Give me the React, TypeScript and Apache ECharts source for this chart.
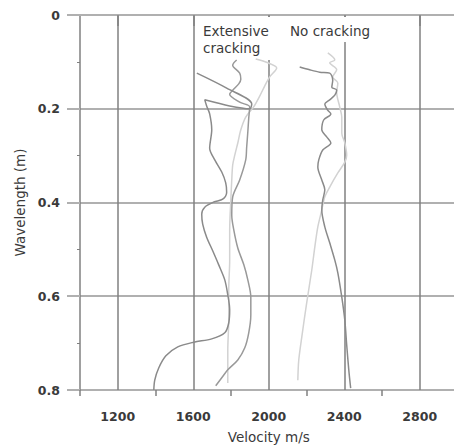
import React, { useEffect, useRef } from "react";
import * as echarts from "echarts";

const FONT = '"DejaVu Sans", Verdana, sans-serif';

const velocityMajorTicks = [1200, 1600, 2000, 2400, 2800];
const velocityMinorTicks = [1000, 1400, 1800, 2200, 2600];
const velocityMin = 1000;
const velocityMax = 3000;
const wavelengthMin = 0;
const wavelengthMax = 0.8;
const wavelengthStep = 0.2;

const xAxisTitle = "Velocity m/s";
const yAxisTitle = "Wavelength (m)";
const labelExtensive = "Extensive\ncracking";
const labelNone = "No cracking";

// Extensive cracking, dark curve
const extDarkVelocity = [1619, 1777, 1910, 1899, 1793, 1661, 1671, 1687, 1698, 1687, 1714, 1751, 1772, 1777, 1756, 1709, 1661, 1645, 1650, 1671, 1703, 1735, 1767, 1783, 1793, 1788, 1767, 1698, 1603, 1518, 1455, 1417, 1396, 1391];
const extDarkWavelength = [0.124, 0.156, 0.19, 0.2, 0.194, 0.181, 0.194, 0.211, 0.245, 0.284, 0.309, 0.335, 0.358, 0.378, 0.393, 0.399, 0.41, 0.425, 0.446, 0.474, 0.503, 0.533, 0.565, 0.597, 0.629, 0.657, 0.678, 0.691, 0.698, 0.708, 0.727, 0.753, 0.779, 0.8];

// Extensive cracking, medium curve
const extMidVelocity = [1830, 1809, 1846, 1852, 1841, 1815, 1793, 1846, 1899, 1894, 1889, 1883, 1878, 1846, 1809, 1804, 1815, 1836, 1868, 1889, 1905, 1905, 1894, 1873, 1836, 1783, 1751, 1719];
const extMidWavelength = [0.096, 0.107, 0.124, 0.137, 0.147, 0.158, 0.169, 0.186, 0.196, 0.22, 0.25, 0.282, 0.309, 0.352, 0.388, 0.427, 0.459, 0.497, 0.533, 0.565, 0.602, 0.64, 0.678, 0.71, 0.736, 0.757, 0.774, 0.791];

// Extensive cracking, light curve
const extLightVelocity = [1931, 1995, 2042, 2005, 1979, 1952, 1920, 1878, 1852, 1836, 1820, 1809, 1804, 1799, 1793, 1793, 1788, 1788, 1783, 1783];
const extLightWavelength = [0.094, 0.102, 0.113, 0.132, 0.151, 0.173, 0.196, 0.218, 0.245, 0.273, 0.299, 0.32, 0.352, 0.395, 0.459, 0.523, 0.587, 0.651, 0.715, 0.785];

// No cracking, dark curve
const noneDarkVelocity = [2164, 2217, 2270, 2323, 2339, 2334, 2360, 2350, 2323, 2297, 2312, 2329, 2291, 2281, 2307, 2329, 2286, 2265, 2260, 2281, 2297, 2286, 2281, 2297, 2323, 2350, 2366, 2387, 2403, 2413, 2424, 2434];
const noneDarkWavelength = [0.111, 0.117, 0.122, 0.124, 0.139, 0.154, 0.16, 0.171, 0.181, 0.19, 0.203, 0.211, 0.224, 0.245, 0.26, 0.273, 0.288, 0.309, 0.324, 0.352, 0.373, 0.395, 0.416, 0.452, 0.486, 0.523, 0.55, 0.602, 0.651, 0.704, 0.757, 0.796];

// No cracking, light curve
const noneLightVelocity = [2313, 2350, 2323, 2360, 2339, 2366, 2360, 2376, 2387, 2387, 2403, 2413, 2403, 2366, 2323, 2297, 2281, 2260, 2244, 2228, 2201, 2175, 2159, 2154];
const noneLightWavelength = [0.081, 0.096, 0.102, 0.117, 0.132, 0.145, 0.166, 0.196, 0.218, 0.252, 0.273, 0.299, 0.314, 0.337, 0.367, 0.388, 0.416, 0.452, 0.495, 0.544, 0.614, 0.687, 0.736, 0.779];

const pairs = (xs: number[], ys: number[]) => xs.map((x, i) => [x, ys[i]]);

const curve = (name: string, xs: number[], ys: number[], color: string) => ({
  name,
  type: "line",
  xAxisIndex: 0,
  data: pairs(xs, ys),
  showSymbol: false,
  symbol: "none",
  smooth: 0.3,
  z: 3,
  lineStyle: { color, width: 1.5 },
});

export default function App() {
  const ref = useRef<HTMLDivElement>(null);
  useEffect(() => {
    if (!ref.current) return;
    const chart = echarts.init(ref.current, undefined, { renderer: "svg" });
    const vGrid = "#808080";
    const hGrid = "#b0b0b0";
    const labelStyle = { fontFamily: FONT, fontSize: 12.5, fontWeight: "bold", color: "#3a3a3a" };
    chart.setOption({
      animation: false,
      backgroundColor: "#ffffff",
      grid: { left: 80, top: 15, width: 377.5, height: 375, containLabel: false, outerBoundsMode: "none" },
      xAxis: [
        {
          type: "value",
          min: velocityMin,
          max: velocityMax,
          position: "bottom",
          name: xAxisTitle,
          nameLocation: "middle",
          nameGap: 40,
          nameTextStyle: { fontFamily: FONT, fontSize: 13.5, color: "#3a3a3a" },
          axisLine: { show: true, lineStyle: { color: hGrid, width: 2 } },
          axisTick: { show: true, length: 11, customValues: velocityMajorTicks, lineStyle: { color: vGrid, width: 1.5 } },
          axisLabel: { show: true, margin: 20, customValues: velocityMajorTicks, formatter: (v: number) => String(v), ...labelStyle },
          splitLine: { show: true, lineStyle: { color: vGrid, width: 1.5 } },
        },
        {
          type: "value",
          min: velocityMin,
          max: velocityMax,
          position: "bottom",
          offset: 0,
          axisLine: { show: false },
          axisTick: { show: true, length: 6, customValues: velocityMinorTicks, lineStyle: { color: vGrid, width: 1.5 } },
          axisLabel: { show: false },
          splitLine: { show: false },
        },
      ],
      yAxis: {
        type: "value",
        inverse: true,
        min: wavelengthMin,
        max: wavelengthMax,
        interval: wavelengthStep,
        name: yAxisTitle,
        nameLocation: "middle",
        nameGap: 50,
        nameRotate: 90,
        nameTextStyle: { fontFamily: FONT, fontSize: 13.5, color: "#3a3a3a" },
        axisLine: { show: true, lineStyle: { color: vGrid, width: 1.5 } },
        axisTick: { show: true, length: 13, lineStyle: { color: hGrid, width: 2 } },
        minorTick: { show: true, splitNumber: 2, length: 3, lineStyle: { color: vGrid, width: 1 } },
        axisLabel: { margin: 20, formatter: (v: number) => String(v), ...labelStyle },
        splitLine: { show: true, lineStyle: { color: hGrid, width: 2 } },
      },
      graphic: [
        { type: "rect", z: 1, shape: { x: 199, y: 17, width: 75, height: 43 }, style: { fill: "#ffffff" } },
        { type: "rect", z: 1, shape: { x: 286, y: 17, width: 90, height: 25 }, style: { fill: "#ffffff" } },
        { type: "text", z: 2, x: 203, y: 22, style: { text: labelExtensive, font: `normal 13.5px ${FONT}`, fill: "#3a3a3a", lineHeight: 17 } },
        { type: "text", z: 2, x: 290, y: 22, style: { text: labelNone, font: `normal 13.5px ${FONT}`, fill: "#3a3a3a", lineHeight: 17 } },
      ],
      series: [
        curve("Extensive light", extLightVelocity, extLightWavelength, "#d2d2d2"),
        curve("No cracking light", noneLightVelocity, noneLightWavelength, "#d2d2d2"),
        curve("Extensive medium", extMidVelocity, extMidWavelength, "#999999"),
        curve("Extensive dark", extDarkVelocity, extDarkWavelength, "#8a8a8a"),
        curve("No cracking dark", noneDarkVelocity, noneDarkWavelength, "#8a8a8a"),
      ],
    });
    return () => chart.dispose();
  }, []);
  return <div ref={ref} style={{ position: "fixed", left: 0, top: 0, width: 454, height: 447 }} />;
}
